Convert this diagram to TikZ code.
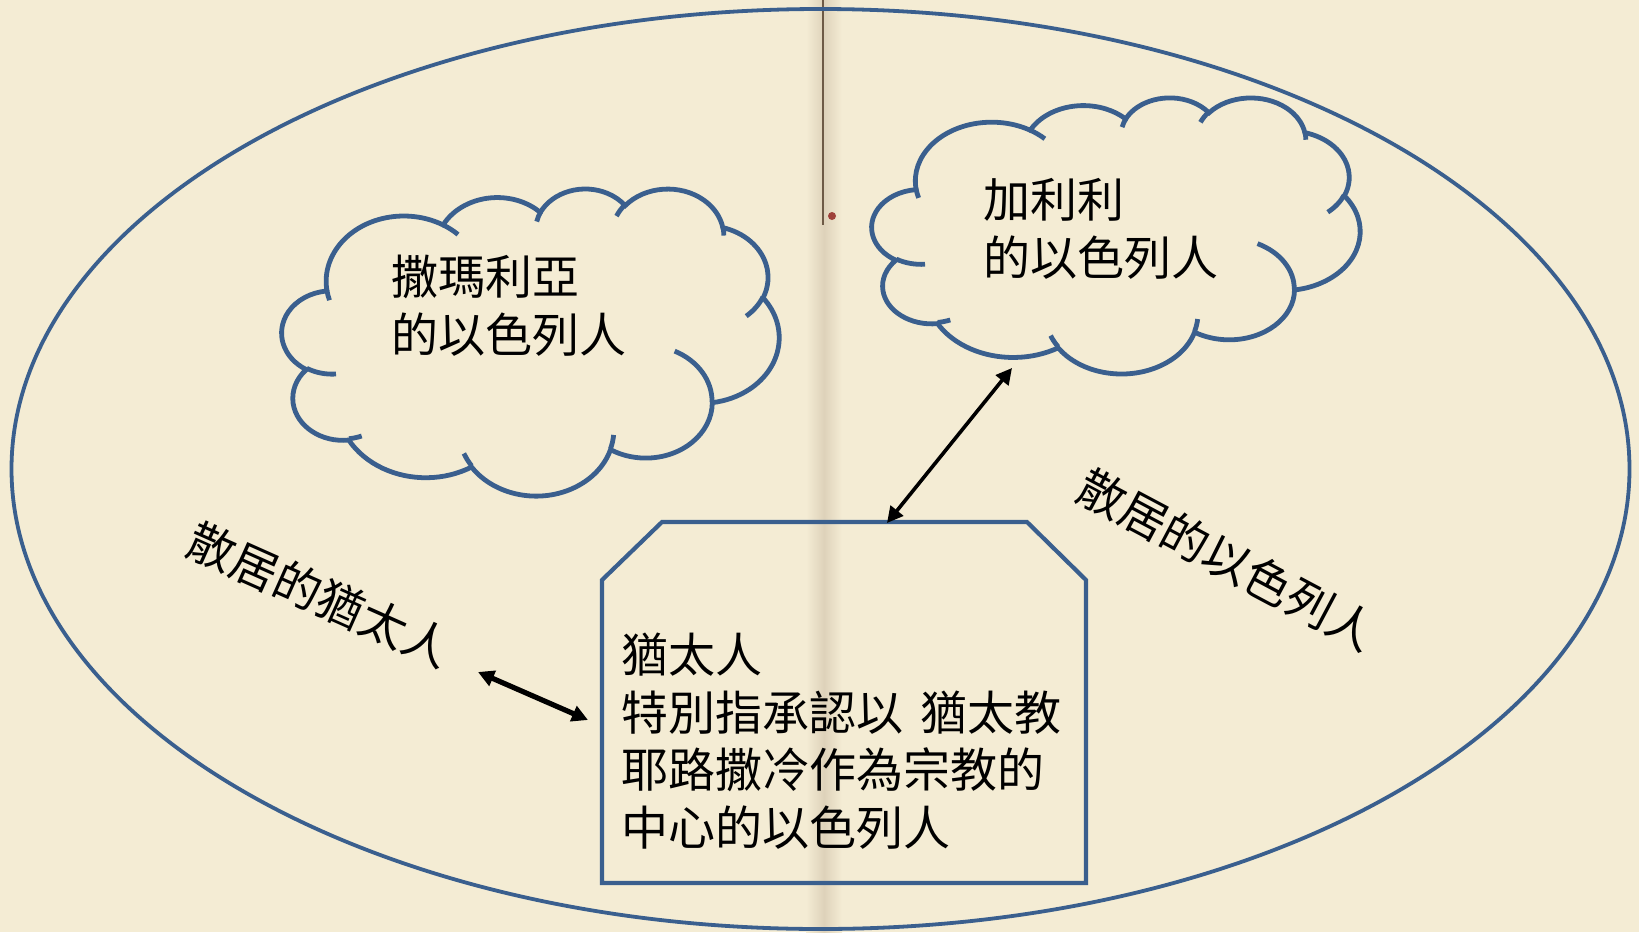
\documentclass[tikz,border=0pt]{standalone}
\usepackage{fontspec}
\newfontfamily\cjk{Noto Sans CJK TC}
\usetikzlibrary{arrows.meta}
\definecolor{paper}{RGB}{244,236,212}
\definecolor{fold}{RGB}{222,210,186}
\definecolor{foldline}{RGB}{110,90,70}
\definecolor{pptblue}{RGB}{58,95,142}
\tikzset{
  outline/.style={draw=pptblue, line width=1.9pt},
  cloudline/.style={draw=pptblue, line width=2.4pt},
  boxline/.style={draw=pptblue, line width=2.1pt},
  txt/.style={font=\cjk\fontsize{23.5}{28.75}\selectfont, align=left, inner sep=0pt, text=black},
  link/.style={draw=black, {Triangle[length=8pt,width=8pt]}-{Triangle[length=8pt,width=8pt]}},
}
% PowerPoint-style cloud in a 432 x 432 path space (y downwards)
\newcommand\pptcloud{%
  \draw[cloudline] (39,143.7)
    \foreach \w/\h/\s/\d in {67.53/91.90/-190.4875/123.7805, 53.33/72.67/-144.1024/89.9452,
      43.65/59.45/-145.8079/99.7230, 48.57/65.95/-130.9861/117.2417,
      53.33/72.73/-78.7089/109.0269, 67.75/92.20/-46.2673/130.2690,
      57.85/78.67/0.6250/114.0333, 67.52/92.15/22.4516/115.1726,
      77.20/105.43/66.2426/75.7110, 43.60/59.18/-274.9421/146.7356,
      43.45/59.45/-246.8285/152.5189}
    { arc[start angle={atan2(\w*sin(\s),\h*cos(\s))},
          delta angle={mod(atan2(\w*sin(\s+\d),\h*cos(\s+\d))-atan2(\w*sin(\s),\h*cos(\s))+720,360)},
          x radius=\w, y radius=\h] } -- cycle;
  \draw[cloudline]
    \foreach \x/\y/\w/\h/\s/\d in {46.93/261.77/43.45/59.45/86.742/26.4295,
      69.28/348.99/43.60/59.18/73.6105/11.4475, 164.78/390.90/67.52/92.15/137.6242/14.0811,
      288.27/347.51/67.52/92.15/6.4533/15.9984, 341.29/229.54/57.85/78.67/-70.2924/70.9174,
      417.98/153.54/53.33/72.73/30.3180/27.7515, 383.24/54.26/48.57/65.95/-13.7443/14.8589,
      290.78/39.52/48.57/65.95/-149.1815/18.1954, 221.41/47.20/43.65/59.45/-163.4943/17.6864,
      140.00/51.92/67.53/91.90/-66.7070/12.3194, 41.27/157.89/67.53/91.90/157.6544/11.8582}
    { (\x,\y) arc[start angle={atan2(\w*sin(\s),\h*cos(\s))},
          delta angle={mod(atan2(\w*sin(\s+\d),\h*cos(\s+\d))-atan2(\w*sin(\s),\h*cos(\s))+720,360)},
          x radius=\w, y radius=\h] };
}
\begin{document}
\begin{tikzpicture}[x=0.5pt, y=-0.5pt]
  \useasboundingbox (0,0) rectangle (1639,932);
  \fill[paper] (0,0) rectangle (1639,932);
  \shade[left color=paper, right color=paper, middle color=fold] (806,0) rectangle (842,932);
  \draw[foldline, line width=0.7pt] (823,0) -- (823,225);
  \fill[red!50!black, opacity=0.7] (832,216) circle [radius=4];

  % outer ellipse
  \draw[outline] (820.5,469) ellipse [x radius=809, y radius=460];

  % clouds
  \begin{scope}[shift={(282,188)}, x=0.57523pt, y=-0.35532pt]
    \pptcloud
  \end{scope}
  \begin{scope}[shift={(872,97)}, x=0.56481pt, y=-0.31944pt]
    \pptcloud
  \end{scope}

  % central box
  \coordinate (b1) at (602,580);
  \coordinate (b2) at (662,522);
  \coordinate (b3) at (1027,522);
  \coordinate (b4) at (1086,580);
  \coordinate (b5) at (1086,883);
  \coordinate (b6) at (602,883);
  \draw[boxline] (b1) -- (b2) -- (b3) -- (b4) -- (b5) -- (b6) -- cycle;

  % texts
  \node[txt, anchor=north west] (samaria) at (391,255) {撒瑪利亞\\的以色列人};
  \node[txt, anchor=north west] (galilee) at (983,178) {加利利\\的以色列人};
  \node[txt, anchor=north west] (jews) at (621,633) {猶太人\\特別指承認以\hspace{0.36em}猶太教\\耶路撒冷作為宗教的\\中心的以色列人};
  \node[txt, rotate=-24] (diaJ) at (319.5,595) {散居的猶太人};
  \node[txt, rotate=-28] (diaI) at (1227.5,560) {散居的以色列人};

  % connectors
  \coordinate (jdEnd) at (478,672);
  \coordinate (boxL) at (588,720);
  \coordinate (galEnd) at (1012,368);
  \coordinate (boxT) at (887,523);
  \draw[link, line width=2.6pt] (jdEnd) -- (boxL);
  \draw[link, line width=1.8pt] (galEnd) -- (boxT);
\end{tikzpicture}
\end{document}
